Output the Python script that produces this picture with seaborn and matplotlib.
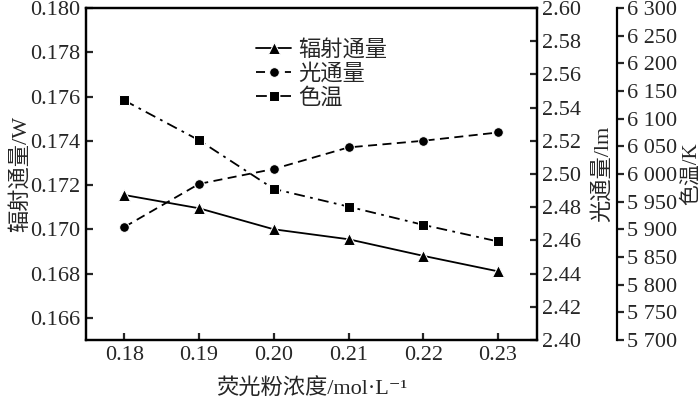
import matplotlib
matplotlib.use("Agg")
import matplotlib.pyplot as plt
import seaborn as sns
from matplotlib.ticker import MultipleLocator, FuncFormatter

# dati
concentrazione = [0.18, 0.19, 0.20, 0.21, 0.22, 0.23]
flusso_radiante = [0.17155, 0.17095, 0.1700, 0.16955, 0.1688, 0.1681]
flusso_luminoso = [2.468, 2.494, 2.503, 2.516, 2.520, 2.525]
temperatura_colore = [6133, 6061, 5973, 5941, 5908, 5878]

sns.set_theme(style="ticks")
plt.rcParams["font.family"] = ["Liberation Serif", "Noto Sans CJK SC", "DejaVu Sans"]
plt.rcParams["axes.linewidth"] = 1.6
plt.rcParams["axes.edgecolor"] = "black"

fig, ax1 = plt.subplots(figsize=(7, 3.99), dpi=100)
fig.subplots_adjust(left=0.123, right=0.767, top=0.98, bottom=0.148)
ax2 = ax1.twinx()
ax3 = ax1.twinx()
# 80 px di distanza = 57.6 pt
ax3.spines["right"].set_position(("outward", 57.6))

fs = 16
sns.lineplot(x=concentrazione, y=flusso_radiante, ax=ax1, color="black",
             marker="^", markersize=8, linewidth=1.3, linestyle="-")
sns.lineplot(x=concentrazione, y=flusso_luminoso, ax=ax2, color="black",
             marker="o", markersize=7, linewidth=1.3, linestyle=(0, (5, 3)))
sns.lineplot(x=concentrazione, y=temperatura_colore, ax=ax3, color="black",
             marker="s", markersize=7, linewidth=1.3, linestyle=(0, (6, 3, 1.5, 3)))

ax1.set_xlim(0.1749, 0.2352)
ax1.set_ylim(0.165, 0.180)
ax2.set_ylim(2.40, 2.60)
ax3.set_ylim(5700, 6300)

ax1.xaxis.set_major_locator(MultipleLocator(0.01))
ax1.xaxis.set_major_formatter(FuncFormatter(lambda v, p: f"{v:.2f}"))
ax1.yaxis.set_major_locator(MultipleLocator(0.002))
ax1.yaxis.set_major_formatter(FuncFormatter(lambda v, p: f"{v:.3f}" if v > 0.1655 else ""))
ax2.yaxis.set_major_locator(MultipleLocator(0.02))
ax2.yaxis.set_major_formatter(FuncFormatter(lambda v, p: f"{v:.2f}"))
ax3.yaxis.set_major_locator(MultipleLocator(50))
ax3.yaxis.set_major_formatter(
    FuncFormatter(lambda v, p: f"{int(v) // 1000} {int(v) % 1000:03d}"))

ax1.tick_params(axis="both", direction="in", length=5, width=1.6, labelsize=fs, pad=4)
ax2.tick_params(axis="y", direction="in", length=5, width=1.6, labelsize=fs, pad=4)
ax3.tick_params(axis="y", direction="out", length=5, width=1.6, labelsize=fs, pad=2)

for ax in (ax1, ax2, ax3):
    for s in ax.spines.values():
        s.set_linewidth(1.6)
        s.set_color("black")
ax3.spines["left"].set_visible(False)
ax3.spines["top"].set_visible(False)
ax3.spines["bottom"].set_visible(False)

ax1.set_xlabel("荧光粉浓度/mol·L⁻¹", fontsize=fs, labelpad=10)
ax1.set_ylabel("辐射通量/W", fontsize=fs)
ax2.set_ylabel("光通量/lm", fontsize=fs)
ax3.set_ylabel("色温/K", fontsize=15)
ax1.yaxis.set_label_coords(-0.122, 0.5)
ax2.yaxis.set_label_coords(1.122, 0.5)
ax3.yaxis.set_label_coords(1.321, 0.5)

handles = [ax1.lines[0], ax2.lines[0], ax3.lines[0]]
labels = ["辐射通量", "光通量", "色温"]
ax1.legend(handles, labels, loc="upper left", bbox_to_anchor=(0.352, 0.938),
           frameon=False, fontsize=fs, handlelength=1.6, handletextpad=0.3,
           labelspacing=0.15, borderpad=0)

fig.savefig("out.png", dpi=100)
